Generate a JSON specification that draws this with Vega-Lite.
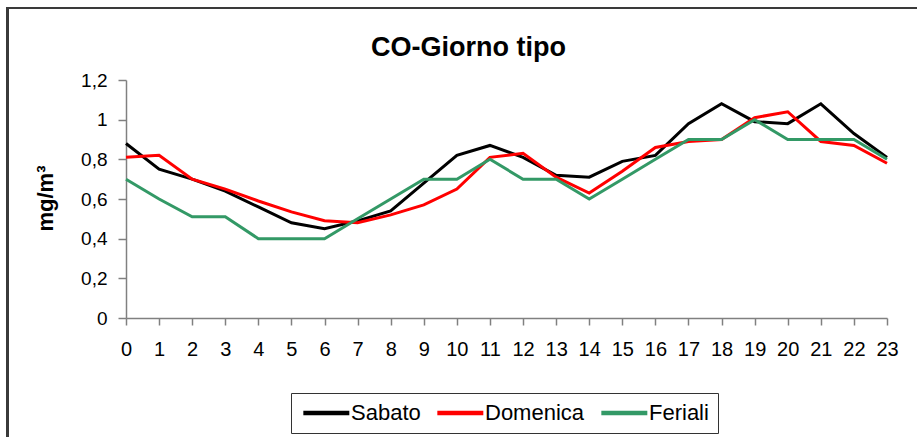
{
  "$schema": "https://vega.github.io/schema/vega-lite/v6.json",
  "width": 761,
  "height": 238,
  "autosize": {"type": "none"},
  "padding": {"left": 126, "top": 80, "right": 30, "bottom": 119},
  "background": "white",
  "config": {
    "font": "Liberation Sans",
    "view": {"stroke": null}
  },
  "title": {
    "text": "CO-Giorno tipo",
    "fontSize": 27,
    "fontWeight": "bold",
    "color": "#000000",
    "anchor": "middle",
    "frame": "group",
    "dx": -38,
    "offset": -55
  },
  "data": {
    "values": [
      {"ora": 0, "serie": "Sabato", "valore": 0.88},
      {"ora": 1, "serie": "Sabato", "valore": 0.75},
      {"ora": 2, "serie": "Sabato", "valore": 0.70},
      {"ora": 3, "serie": "Sabato", "valore": 0.64},
      {"ora": 4, "serie": "Sabato", "valore": 0.56},
      {"ora": 5, "serie": "Sabato", "valore": 0.48},
      {"ora": 6, "serie": "Sabato", "valore": 0.45},
      {"ora": 7, "serie": "Sabato", "valore": 0.49},
      {"ora": 8, "serie": "Sabato", "valore": 0.54},
      {"ora": 9, "serie": "Sabato", "valore": 0.68},
      {"ora": 10, "serie": "Sabato", "valore": 0.82},
      {"ora": 11, "serie": "Sabato", "valore": 0.87},
      {"ora": 12, "serie": "Sabato", "valore": 0.81},
      {"ora": 13, "serie": "Sabato", "valore": 0.72},
      {"ora": 14, "serie": "Sabato", "valore": 0.71},
      {"ora": 15, "serie": "Sabato", "valore": 0.79},
      {"ora": 16, "serie": "Sabato", "valore": 0.82},
      {"ora": 17, "serie": "Sabato", "valore": 0.98},
      {"ora": 18, "serie": "Sabato", "valore": 1.08},
      {"ora": 19, "serie": "Sabato", "valore": 0.99},
      {"ora": 20, "serie": "Sabato", "valore": 0.98},
      {"ora": 21, "serie": "Sabato", "valore": 1.08},
      {"ora": 22, "serie": "Sabato", "valore": 0.93},
      {"ora": 23, "serie": "Sabato", "valore": 0.81},
      {"ora": 0, "serie": "Domenica", "valore": 0.81},
      {"ora": 1, "serie": "Domenica", "valore": 0.82},
      {"ora": 2, "serie": "Domenica", "valore": 0.70},
      {"ora": 3, "serie": "Domenica", "valore": 0.65},
      {"ora": 4, "serie": "Domenica", "valore": 0.59},
      {"ora": 5, "serie": "Domenica", "valore": 0.535},
      {"ora": 6, "serie": "Domenica", "valore": 0.49},
      {"ora": 7, "serie": "Domenica", "valore": 0.48},
      {"ora": 8, "serie": "Domenica", "valore": 0.52},
      {"ora": 9, "serie": "Domenica", "valore": 0.57},
      {"ora": 10, "serie": "Domenica", "valore": 0.65},
      {"ora": 11, "serie": "Domenica", "valore": 0.81},
      {"ora": 12, "serie": "Domenica", "valore": 0.83},
      {"ora": 13, "serie": "Domenica", "valore": 0.71},
      {"ora": 14, "serie": "Domenica", "valore": 0.63},
      {"ora": 15, "serie": "Domenica", "valore": 0.74},
      {"ora": 16, "serie": "Domenica", "valore": 0.86},
      {"ora": 17, "serie": "Domenica", "valore": 0.89},
      {"ora": 18, "serie": "Domenica", "valore": 0.90},
      {"ora": 19, "serie": "Domenica", "valore": 1.01},
      {"ora": 20, "serie": "Domenica", "valore": 1.04},
      {"ora": 21, "serie": "Domenica", "valore": 0.89},
      {"ora": 22, "serie": "Domenica", "valore": 0.87},
      {"ora": 23, "serie": "Domenica", "valore": 0.78},
      {"ora": 0, "serie": "Feriali", "valore": 0.70},
      {"ora": 1, "serie": "Feriali", "valore": 0.60},
      {"ora": 2, "serie": "Feriali", "valore": 0.51},
      {"ora": 3, "serie": "Feriali", "valore": 0.51},
      {"ora": 4, "serie": "Feriali", "valore": 0.40},
      {"ora": 5, "serie": "Feriali", "valore": 0.40},
      {"ora": 6, "serie": "Feriali", "valore": 0.40},
      {"ora": 7, "serie": "Feriali", "valore": 0.50},
      {"ora": 8, "serie": "Feriali", "valore": 0.60},
      {"ora": 9, "serie": "Feriali", "valore": 0.70},
      {"ora": 10, "serie": "Feriali", "valore": 0.70},
      {"ora": 11, "serie": "Feriali", "valore": 0.80},
      {"ora": 12, "serie": "Feriali", "valore": 0.70},
      {"ora": 13, "serie": "Feriali", "valore": 0.70},
      {"ora": 14, "serie": "Feriali", "valore": 0.60},
      {"ora": 15, "serie": "Feriali", "valore": 0.70},
      {"ora": 16, "serie": "Feriali", "valore": 0.80},
      {"ora": 17, "serie": "Feriali", "valore": 0.90},
      {"ora": 18, "serie": "Feriali", "valore": 0.90},
      {"ora": 19, "serie": "Feriali", "valore": 1.00},
      {"ora": 20, "serie": "Feriali", "valore": 0.90},
      {"ora": 21, "serie": "Feriali", "valore": 0.90},
      {"ora": 22, "serie": "Feriali", "valore": 0.90},
      {"ora": 23, "serie": "Feriali", "valore": 0.80}
    ]
  },
  "layer": [
    {
      "mark": {"type": "line", "strokeWidth": 3, "strokeJoin": "miter"},
      "encoding": {
        "x": {
          "field": "ora",
          "type": "quantitative",
          "scale": {"domain": [0, 23], "nice": false, "zero": false},
          "axis": {
            "title": null,
            "values": [0,1,2,3,4,5,6,7,8,9,10,11,12,13,14,15,16,17,18,19,20,21,22,23],
            "grid": false,
            "domainColor": "#808080",
            "domainWidth": 1.5,
            "tickColor": "#808080",
            "tickWidth": 1.5,
            "tickSize": 7,
            "labelPadding": 14,
            "labelFontSize": 20,
            "labelColor": "#000000",
            "labelFlush": false,
            "labelOverlap": false
          }
        },
        "y": {
          "field": "valore",
          "type": "quantitative",
          "scale": {"domain": [0, 1.2], "nice": false},
          "axis": {
            "title": "mg/m³",
            "titleFontSize": 22,
            "titleFontWeight": "bold",
            "titleColor": "#000000",
            "titleAngle": -90,
            "titleAlign": "center",
            "titleBaseline": "middle",
            "titleX": -81,
            "titleY": 118,
            "values": [0, 0.2, 0.4, 0.6, 0.8, 1, 1.2],
            "labelExpr": "replace(format(datum.value, '~g'), '.', ',')",
            "grid": false,
            "domainColor": "#808080",
            "domainWidth": 1.5,
            "tickColor": "#808080",
            "tickWidth": 1.5,
            "tickSize": 8,
            "labelPadding": 11,
            "labelFontSize": 19,
            "labelColor": "#000000",
            "labelOverlap": false
          }
        },
        "color": {
          "field": "serie",
          "type": "nominal",
          "sort": ["Sabato", "Domenica", "Feriali"],
          "scale": {"domain": ["Sabato", "Domenica", "Feriali"], "range": ["#000000", "#ff0000", "#339966"]},
          "legend": {
            "title": null,
            "orient": "none",
            "direction": "horizontal",
            "legendX": 165,
            "legendY": 313,
            "padding": 9,
            "strokeColor": "#333333",
            "fillColor": "white",
            "symbolType": "M-1,0H5",
            "symbolSize": 235,
            "symbolStrokeWidth": 4.5,
            "labelFontSize": 22,
            "labelColor": "#000000",
            "labelOffset": 29,
            "columnPadding": 7
          }
        }
      }
    },
    {
      "description": "outer frame around the whole chart, placed through the scales",
      "mark": {"type": "rect", "fill": null, "stroke": "#3a3a3a", "strokeWidth": 2, "clip": false},
      "encoding": {
        "x": {
          "datum": -3.57,
          "type": "quantitative",
          "axis": {
            "title": null,
            "values": [0,1,2,3,4,5,6,7,8,9,10,11,12,13,14,15,16,17,18,19,20,21,22,23],
            "grid": false,
            "domainColor": "#808080",
            "domainWidth": 1.5,
            "tickColor": "#808080",
            "tickWidth": 1.5,
            "tickSize": 7,
            "labelPadding": 14,
            "labelFontSize": 20,
            "labelColor": "#000000",
            "labelFlush": false,
            "labelOverlap": false
          }
        },
        "x2": {"datum": 30},
        "y": {
          "datum": 1.563,
          "type": "quantitative",
          "axis": {
            "title": "mg/m³",
            "titleFontSize": 22,
            "titleFontWeight": "bold",
            "titleColor": "#000000",
            "titleAngle": -90,
            "titleAlign": "center",
            "titleBaseline": "middle",
            "titleX": -81,
            "titleY": 118,
            "values": [0, 0.2, 0.4, 0.6, 0.8, 1, 1.2],
            "labelExpr": "replace(format(datum.value, '~g'), '.', ',')",
            "grid": false,
            "domainColor": "#808080",
            "domainWidth": 1.5,
            "tickColor": "#808080",
            "tickWidth": 1.5,
            "tickSize": 8,
            "labelPadding": 11,
            "labelFontSize": 19,
            "labelColor": "#000000",
            "labelOverlap": false
          }
        },
        "y2": {"datum": -1}
      }
    }
  ]
}
